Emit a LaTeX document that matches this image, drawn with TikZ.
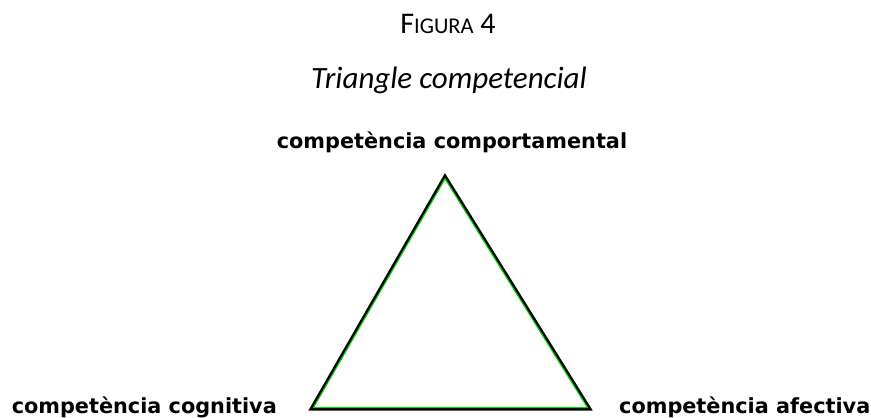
\documentclass[tikz,border=0pt]{standalone}
\usepackage{fontspec}
\setmainfont{Carlito}
\newfontfamily\vertexfont{DejaVu Sans}
\usetikzlibrary{positioning,calc}
\begin{document}
\begin{tikzpicture}[x=1pt, y=-1pt,
    vertex/.style={font=\vertexfont\bfseries\fontsize{20.8}{24}\selectfont, inner sep=0pt},
    side/.style={line width=3pt, black},
    glow/.style={line width=1.1pt, green!85!black}]
    \useasboundingbox (0,0) rectangle (871,418);
    \node[anchor=base, inner sep=0pt] (fig) at (448,33) {\fontsize{30}{34}\selectfont F{\fontsize{22.5}{26}\selectfont IGURA} 4};
    \node[anchor=base, inner sep=0pt] (title) at (449,88) {\fontsize{31}{36}\selectfont\itshape Triangle competencial};
    \coordinate (top) at (445,176);
    \coordinate (cogn) at (311,409);
    \coordinate (afec) at (590,409);
    \coordinate (mid) at ($1/3*(top)+1/3*(cogn)+1/3*(afec)$);
    \node[vertex, anchor=base] (comp) at (452,148) {competència comportamental};
    \node[vertex, anchor=base east] (cognt) at ($(cogn)+(-34,4)$) {competència cognitiva};
    \node[vertex, anchor=base west] (afect) at ($(afec)+(29,4)$) {competència afectiva};
    \draw[side] (top) -- (cogn) -- (afec) -- cycle;
    \draw[glow] ($(mid)!0.982!(top)$) -- ($(mid)!0.982!(cogn)$) -- ($(mid)!0.982!(afec)$) -- cycle;
\end{tikzpicture}
\end{document}
